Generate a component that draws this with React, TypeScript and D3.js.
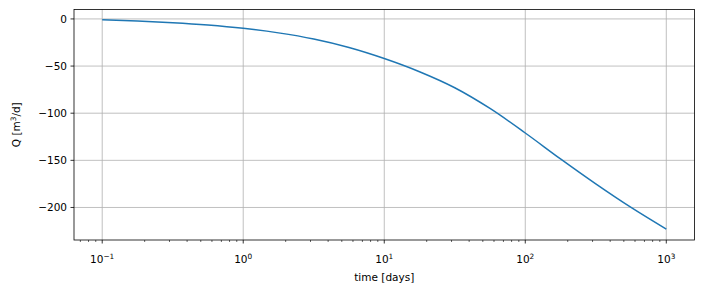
import React from "react";
import * as d3 from "d3";

// time [days] sampled every quarter decade
const times = [0.1, 0.1778, 0.3162, 0.5623, 1, 1.778, 3.162, 5.623, 10, 17.78, 31.62, 56.23, 100, 177.8, 316.2, 562.3, 1000];
// Q [m3/d]
const flows = [-1.0, -2.2, -4.0, -6.5, -10.0, -14.8, -21.3, -30.3, -42.0, -56.0, -73.0, -95.0, -121.0, -148.5, -175.0, -200.0, -223.0];
const xTickExps = [-1, 0, 1, 2, 3];
const yTicks = [0, -50, -100, -150, -200];

const W = 704, H = 292;
const L = 74, R = 694.5, T = 9.5, B = 240;
const FONT = "DejaVu Sans, sans-serif";
const FS = 10.5;

export default function App() {
  const x = d3.scaleLog().domain([Math.pow(10, -1.2), Math.pow(10, 3.2)]).range([L, R]);
  const y = d3.scaleLinear().domain([-234.5, 10]).range([B, T]);
  const data = times.map((t, i) => [t, flows[i]] as [number, number]);
  const line = d3.line<[number, number]>().x(d => x(d[0])).y(d => y(d[1])).curve(d3.curveMonotoneX);

  const minor: number[] = [];
  for (let e = -2; e <= 3; e++) {
    for (let m = 2; m <= 9; m++) {
      const v = m * Math.pow(10, e);
      const px = x(v);
      if (px >= L - 0.01 && px <= R + 0.01) minor.push(v);
    }
  }

  return (
    <svg width={W} height={H} style={{ position: "absolute", left: 0, top: 0, background: "#fff" }} fontFamily={FONT}>
      <rect x={0} y={0} width={W} height={H} fill="#fff" />
      {/* grid */}
      {xTickExps.map(e => (
        <line key={"gx" + e} x1={x(Math.pow(10, e))} x2={x(Math.pow(10, e))} y1={T} y2={B} stroke="#b0b0b0" strokeWidth={0.8} />
      ))}
      {yTicks.map(v => (
        <line key={"gy" + v} x1={L} x2={R} y1={y(v)} y2={y(v)} stroke="#b0b0b0" strokeWidth={0.8} />
      ))}
      {/* curve */}
      <path d={line(data) || ""} fill="none" stroke="#1f77b4" strokeWidth={1.5} />
      {/* spines */}
      <rect x={L} y={T} width={R - L} height={B - T} fill="none" stroke="#000" strokeWidth={0.8} />
      {/* x ticks */}
      {xTickExps.map(e => {
        const px = x(Math.pow(10, e));
        return (
          <g key={"xt" + e}>
            <line x1={px} x2={px} y1={B} y2={B + 3.5} stroke="#000" strokeWidth={0.8} />
            <text x={px} y={263} textAnchor="middle" fontSize={FS} fill="#000">
              10<tspan dy={-4.5} fontSize={FS * 0.7}>{e < 0 ? "\u2212" + Math.abs(e) : String(e)}</tspan>
            </text>
          </g>
        );
      })}
      {minor.map(v => (
        <line key={"mt" + v} x1={x(v)} x2={x(v)} y1={B} y2={B + 2} stroke="#000" strokeWidth={0.6} />
      ))}
      {/* y ticks */}
      {yTicks.map(v => (
        <g key={"yt" + v}>
          <line x1={L - 3.5} x2={L} y1={y(v)} y2={y(v)} stroke="#000" strokeWidth={0.8} />
          <text x={L - 7} y={y(v)} dy="0.36em" textAnchor="end" fontSize={FS} fill="#000">
            {v < 0 ? "\u2212" + Math.abs(v) : String(v)}
          </text>
        </g>
      ))}
      {/* labels */}
      <text x={(L + R) / 2} y={281} textAnchor="middle" fontSize={FS} fill="#000">time [days]</text>
      <text transform={`translate(20,${(T + B) / 2}) rotate(-90)`} textAnchor="middle" fontSize={FS} fill="#000">
        Q [m<tspan dy={-4} fontSize={FS * 0.7}>3</tspan><tspan dy={4}>/d]</tspan>
      </text>
    </svg>
  );
}
